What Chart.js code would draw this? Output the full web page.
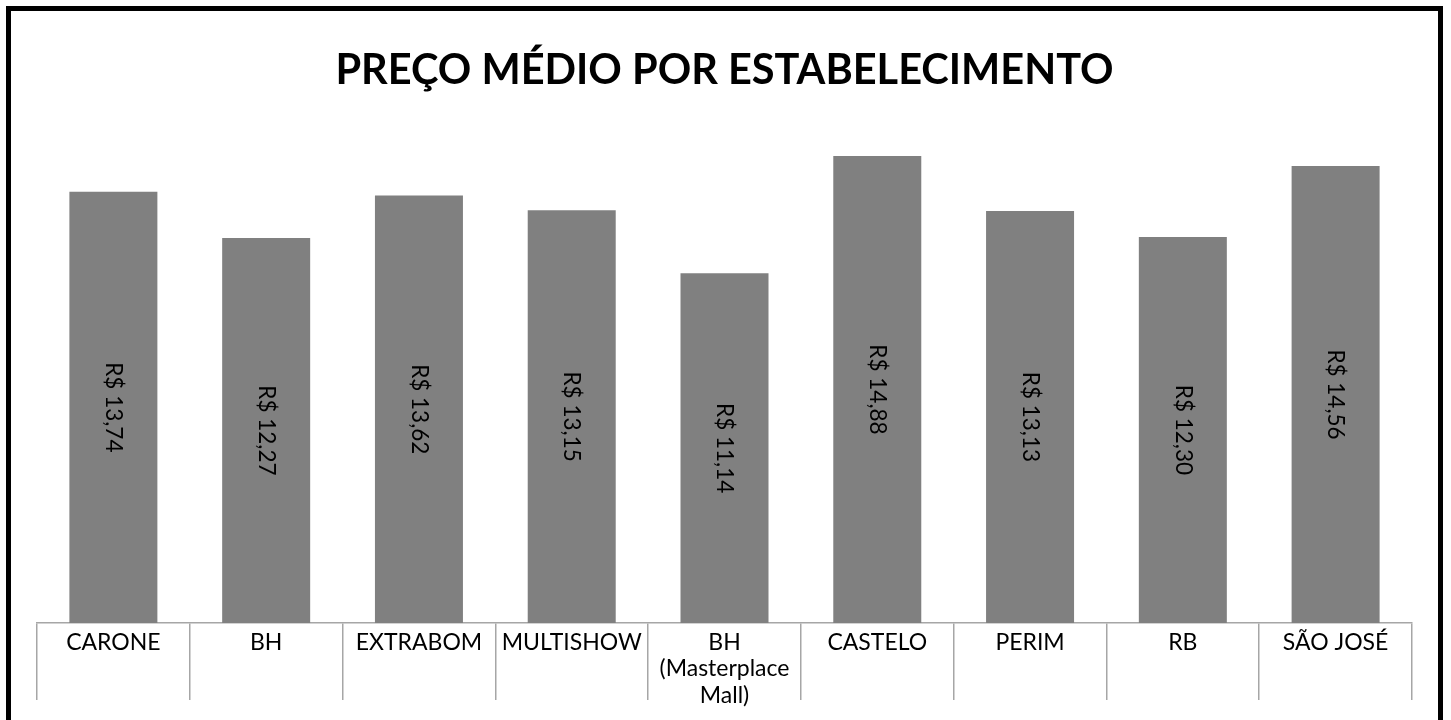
<!DOCTYPE html>
<html>
<head>
<meta charset="utf-8">
<script src="https://cdn.jsdelivr.net/npm/chart.js@4"></script>
<style>
  html, body { margin:0; padding:0; background:#fff; }
  #wrap { width:1451px; height:720px; position:relative; }
</style>
</head>
<body>
<div id="wrap"><canvas id="precoChart" width="1451" height="720"></canvas></div>
<script>
const titleText = 'PREÇO MÉDIO POR ESTABELECIMENTO';
const lojas = ['CARONE', 'BH', 'EXTRABOM', 'MULTISHOW', ['BH', '(Masterplace', 'Mall)'], 'CASTELO', 'PERIM', 'RB', 'SÃO JOSÉ'];
const precos = [13.74, 12.27, 13.62, 13.15, 11.14, 14.88, 13.13, 12.30, 14.56];

const BAR_COLOR = '#808080';
const LINE_COLOR = '#a6a6a6';

function formatBRL(v){
  return 'R$ ' + v.toFixed(2).replace('.', ',');
}

// moldura preta em volta do gráfico
const frame = {
  id:'frame',
  beforeDraw(chart){
    const ctx = chart.ctx;
    ctx.save();
    ctx.fillStyle = '#fff';
    ctx.fillRect(0, 0, chart.width, chart.height);
    ctx.strokeStyle = '#000';
    ctx.lineWidth = 5;
    ctx.strokeRect(8.5, 8.5, 1432, 740);
    ctx.restore();
  }
};

// rótulos verticais dentro das barras
const vertLabels = {
  id:'vertLabels',
  afterDatasetsDraw(chart){
    const ctx = chart.ctx;
    const meta = chart.getDatasetMeta(0);
    ctx.save();
    ctx.font = '22.5px Lato';
    ctx.fillStyle = '#000';
    ctx.textAlign = 'center';
    ctx.textBaseline = 'middle';
    meta.data.forEach((bar, i)=>{
      const cy = (bar.y + bar.base) / 2;
      ctx.save();
      ctx.translate(bar.x, cy);
      ctx.rotate(Math.PI / 2);
      ctx.fillText(formatBRL(precos[i]), 0, 0);
      ctx.restore();
    });
    ctx.restore();
  }
};

new Chart(document.getElementById('precoChart'), {
  type:'bar',
  data:{
    labels: lojas,
    datasets:[{ data: precos, backgroundColor: BAR_COLOR, barPercentage: 0.576, categoryPercentage: 1 }]
  },
  options:{
    responsive:false,
    animation:false,
    layout:{ padding:{ top:46, left:37, right:39, bottom:0 } },
    plugins:{
      legend:{ display:false },
      tooltip:{ enabled:false },
      title:{
        display:true,
        text: titleText,
        color:'#000',
        font:{ family:'Lato', size:41.5, weight:'bold', lineHeight:1.2 },
        padding:{ top:0, bottom:25 }
      }
    },
    scales:{
      y:{ display:false, min:0, max:16 },
      x:{
        afterFit(scale){ scale.height = 97; },
        grid:{ drawOnChartArea:false, drawTicks:true, tickLength:77, color:LINE_COLOR, lineWidth:1.5, offset:true },
        border:{ display:true, color:LINE_COLOR, width:1.5 },
        ticks:{ color:'#000', font:{ family:'Lato', size:23, lineHeight:1.15 }, padding:-71, maxRotation:0, autoSkip:false }
      }
    }
  },
  plugins:[frame, vertLabels]
});
</script>
</body>
</html>
